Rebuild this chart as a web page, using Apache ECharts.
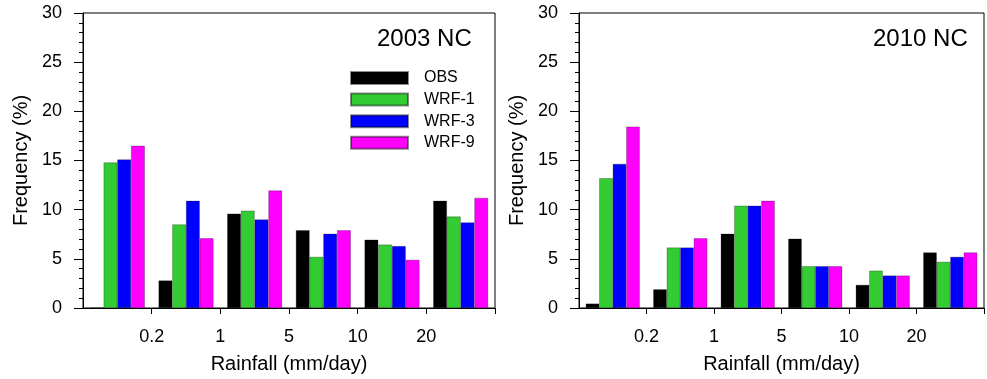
<!DOCTYPE html>
<html>
<head>
<meta charset="utf-8">
<script src="https://cdn.jsdelivr.net/npm/echarts@6/dist/echarts.min.js"></script>
<style>html,body{margin:0;padding:0;background:#fff;}#c{width:987px;height:379px;}</style>
</head>
<body>
<div id="c"></div>
<script>
const categories = ['<0.2', '0.2-1', '1-5', '5-10', '10-20', '>20'];
const tickLabels = ['', '0.2', '1', '5', '10', '20', ''];
const seriesNames = ['OBS', 'WRF-1', 'WRF-3', 'WRF-9'];
const colors = ['#000000', '#33cc33', '#0000ff', '#ff00ff'];
const titles = ['2003 NC', '2010 NC'];

const obs2003  = [0,    2.8, 9.6,  7.9, 6.95, 10.9];
const wrf1_2003 = [14.8, 8.5, 9.9,  5.2, 6.45, 9.3];
const wrf3_2003 = [15.1, 10.9, 9.0, 7.55, 6.3, 8.7];
const wrf9_2003 = [16.5, 7.1, 11.95, 7.9, 4.9, 11.2];

const obs2010  = [0.45, 1.9, 7.55, 7.05, 2.35, 5.65];
const wrf1_2010 = [13.2, 6.15, 10.4, 4.25, 3.8, 4.7];
const wrf3_2010 = [14.65, 6.15, 10.4, 4.25, 3.3, 5.2];
const wrf9_2010 = [18.45, 7.1, 10.9, 4.25, 3.3, 5.65];

const panels = [
  [obs2003, wrf1_2003, wrf3_2003, wrf9_2003],
  [obs2010, wrf1_2010, wrf3_2010, wrf9_2010]
];

const font = 'Liberation Sans, Arial, Helvetica, sans-serif';
const grids = [
  {left: 83, top: 13, width: 412, height: 295},
  {left: 579, top: 13, width: 413, height: 295}
];

const xAxes = [], yAxes = [], series = [];
grids.forEach((g, gi) => {
  xAxes.push({
    type: 'category', gridIndex: gi, data: categories, boundaryGap: true,
    axisLine: {show: true, lineStyle: {color: '#000', width: 1}},
    axisTick: {show: false}, axisLabel: {show: false}, splitLine: {show: false}
  });
  xAxes.push({
    type: 'category', gridIndex: gi, data: tickLabels, boundaryGap: false, position: 'bottom',
    axisLine: {show: false},
    axisTick: {show: true, inside: false, length: 6, interval: (i) => i > 0,
               lineStyle: {color: '#000', width: 1}},
    axisLabel: {show: true, interval: 0, margin: 20, fontSize: 18, color: '#000', fontFamily: font},
    splitLine: {show: false},
    name: 'Rainfall (mm/day)', nameLocation: 'middle', nameGap: 46,
    nameTextStyle: {fontSize: 20, color: '#000', fontFamily: font}
  });
  yAxes.push({
    type: 'value', gridIndex: gi, min: 0, max: 30, interval: 5,
    axisLine: {show: true, lineStyle: {color: '#000', width: 1}},
    axisTick: {show: true, inside: false, length: 9, lineStyle: {color: '#000', width: 1}},
    minorTick: {show: true, splitNumber: 5, length: 4, lineStyle: {color: '#000', width: 1}},
    splitLine: {show: false},
    axisLabel: {fontSize: 18, color: '#000', margin: 21, fontFamily: font},
    name: 'Frequency (%)', nameLocation: 'middle', nameGap: 52,
    nameTextStyle: {fontSize: 20, color: '#000', fontFamily: font}
  });
  seriesNames.forEach((n, si) => {
    series.push({
      type: 'bar', name: n, xAxisIndex: gi * 2, yAxisIndex: gi,
      data: panels[gi][si], barGap: '0%', barCategoryGap: '20%',
      itemStyle: {color: colors[si], borderColor: 'rgba(0,0,0,0.45)', borderWidth: 0.6},
      emphasis: {disabled: true}, animation: false
    });
  });
});

const chart = echarts.init(document.getElementById('c'), null, {renderer: 'canvas'});
chart.setOption({
  backgroundColor: '#fff',
  animation: false,
  textStyle: {fontFamily: font},
  title: [
    {text: titles[0], left: 377, top: 27, padding: 0, textStyle: {fontSize: 24, fontWeight: 'normal', color: '#000', fontFamily: font}},
    {text: titles[1], left: 873, top: 27, padding: 0, textStyle: {fontSize: 24, fontWeight: 'normal', color: '#000', fontFamily: font}}
  ],
  legend: {
    data: seriesNames, orient: 'vertical', left: 350, top: 70, padding: 0,
    itemWidth: 57, itemHeight: 12, itemGap: 5.6, icon: 'rect', selectedMode: false,
    textStyle: {fontSize: 16, color: '#000', fontFamily: font, padding: [0, 0, 0, 11]}
  },
  grid: grids.map(g => Object.assign({show: true, borderColor: '#000', borderWidth: 1, backgroundColor: 'transparent'}, g)),
  xAxis: xAxes,
  yAxis: yAxes,
  series: series
});
</script>
</body>
</html>
